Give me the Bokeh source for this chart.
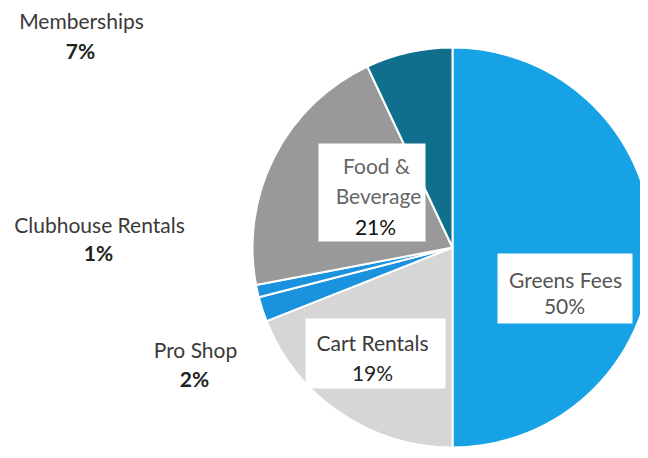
import math
from bokeh.plotting import figure
from bokeh.models import ColumnDataSource, Range1d
from bokeh.core.properties import value
from bokeh.embed import file_html
from bokeh.resources import INLINE

# ---- data (clockwise from 12 o'clock) ----
categories = ["Greens Fees", "Cart Rentals", "Pro Shop", "Clubhouse Rentals", "Food & Beverage", "Memberships"]
shares = [50, 19, 2, 1, 21, 7]
colors = ["#18a2e6", "#d6d6d6", "#1a92dd", "#1a92dd", "#999999", "#0f6f8c"]
pct_labels = ["50%", "19%", "2%", "1%", "21%", "7%"]

W, H = 648, 458
CX, CY, R = 452, H - 247, 200

total = float(sum(shares))
starts, ends = [], []
cum = 0.0
for s in shares:
    f0 = cum / total
    cum += s
    f1 = cum / total
    starts.append(math.pi / 2 - 2 * math.pi * f1)
    ends.append(math.pi / 2 - 2 * math.pi * f0)

src = ColumnDataSource(dict(cat=categories, share=shares, color=colors,
                            start=starts, end=ends))

PW, PH = 640, 450
p = figure(width=PW, height=PH, output_backend="svg", toolbar_location=None,
           x_range=Range1d(0, PW), y_range=Range1d(H - PH, H),
           min_border=0)
p.axis.visible = False
p.grid.visible = False
p.outline_line_color = None
p.background_fill_color = "white"

p.wedge(x=CX, y=CY, radius=R, start_angle="start", end_angle="end",
        fill_color="color", line_color="white", line_width=2, source=src)

FONT = value("Lato")

boxes = [  # (x0, x1, y0, y1) in reference pixel coords
    (497, 632, 253, 323),  # Greens Fees
    (305, 445, 318, 388),  # Cart Rentals
    (318, 425, 143, 241),  # Food & Beverage
]
for x0, x1, y0, y1 in boxes:
    p.quad(left=x0, right=x1, bottom=H - y1, top=H - y0, fill_color="white",
           line_color=None)

def label(x, y, txt, color="#3a3a3a", size="21px", style="normal"):
    p.text(x=[x], y=[H - y], text=[txt], text_align="center", text_baseline="middle",
           text_font=FONT, text_font_size=size, text_color=color, text_font_style=style)

label(565, 279, categories[0], color="#555555")
label(564, 305, pct_labels[0], color="#555555")
label(372, 342, categories[1])
label(372, 372, pct_labels[1], color="#222222")
label(195, 349, categories[2])
label(194, 378, pct_labels[2], color="#222222", style="bold")
label(99, 224, categories[3])
label(98, 252, pct_labels[3], color="#222222", style="bold")
label(376, 165, "Food &", color="#666666")
label(378, 195, "Beverage", color="#666666")
label(375, 226, pct_labels[4], color="#111111")
label(81, 20, categories[5])
label(80, 50, pct_labels[5], color="#222222", style="bold")

open("out.html", "w").write(file_html(p, INLINE))
